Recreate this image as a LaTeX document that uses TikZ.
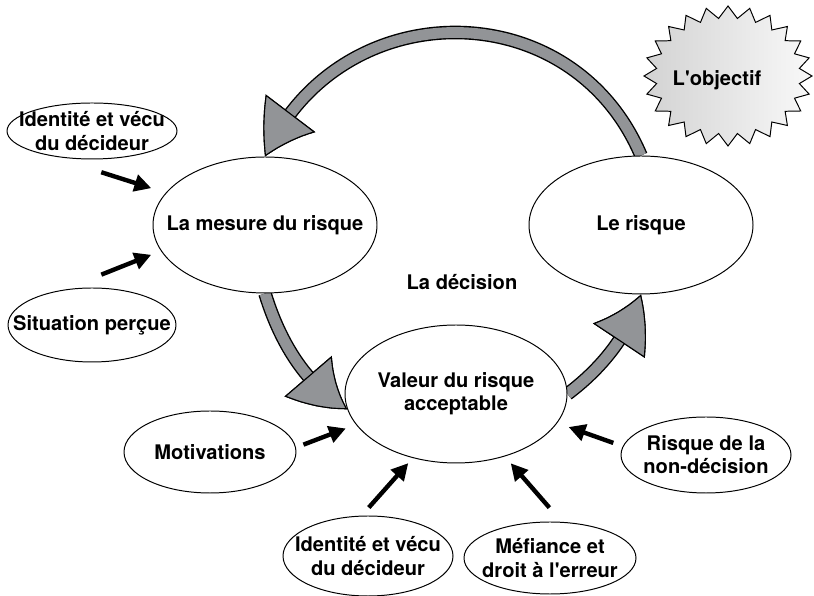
\documentclass[tikz,border=0pt]{standalone}
\usepackage{fontspec}
\setmainfont{TeX Gyre Heros}
\usetikzlibrary{arrows.meta,bending,backgrounds,shapes.geometric,shapes.symbols}
\definecolor{fleche}{RGB}{146,148,151}
\tikzset{pointe/.tip={Triangle[length=1.3cm, width=1.55cm, color=black, fill=fleche, line width=.8pt, bend]}}

\begin{document}
\begin{tikzpicture}[
    font=\fontsize{14.3}{16.5}\selectfont\bfseries,
    bulle/.style={draw, ellipse, line width=.7pt, fill=white, inner sep=0pt},
    texte/.style={align=center, inner sep=0pt},
    boucle/.style={draw=fleche, line width=.27cm, -{pointe},
      preaction={draw=black, line width=.34cm, -{pointe}}},
    pousse/.style={line width=.11cm, -{Triangle[length=.42cm, width=.42cm]}}]
  \useasboundingbox (0,0) rectangle (20.35,14.9);
  % les bulles
  \foreach \nom/\x/\y/\w/\h/\txt in {
      mesure/6.625/9.275/5.6/3.4/{La mesure du risque},
      risque/16.025/9.275/5.6/3.45/{Le risque},
      valeur/11.4/5.05/5.55/3.45/{Valeur du risque\\acceptable},
      idtop/2.3/11.625/4.25/1.4/{Identité et vécu\\du décideur},
      situation/2.3/6.775/4.2/1.85/{Situation perçue},
      motiv/5.25/3.6/4.3/2.05/{Motivations},
      idbot/9.2/1.0/4.25/2.0/{Identité et vécu\\du décideur},
      mefiance/13.75/0.95/4.3/1.8/{Méfiance et\\droit à l\textquotesingle erreur},
      risquend/17.65/3.525/4.25/1.9/{Risque de la\\non-décision}}
    {
      \node[bulle, minimum width=\w cm, minimum height=\h cm] (\nom) at (\x,\y) {};
      \node[texte] (\nom-t) at (\nom) {\txt};
    }
  \node[texte] (decision) at (11.55,7.85) {La décision};
  % l'objectif
  \node[starburst, starburst points=24, starburst point height=.3cm, random starburst=0,
        draw, line width=.7pt, minimum width=4.2cm, minimum height=3.5cm,
        left color=gray!35, right color=gray!5] (objectif) at (18.2,13.0) {};
  \node[texte] (objectif-t) at (17.925,12.9) {L\textquotesingle objectif};
  % le cycle
  \begin{scope}[on background layer]
    \draw[boucle] (risque.north) to[out=113, in=66, looseness=1.22] (mesure.north);
    \draw[boucle] (mesure.south) to[out=287, in=150, looseness=.88] (valeur.188);
    \draw[boucle] (valeur.east) to[out=37, in=253, looseness=.88] (risque.south);
  \end{scope}
  % les influences
  \foreach \da/\db/\sa/\sb/\la/\lb in {
      idtop/mesure/210/162/1.365/.38,
      situation/mesure/129/194/1.02/.26,
      motiv/valeur/3/197/.2/.27,
      idbot/valeur/99/236/.27/.17,
      mefiance/valeur/72/308/.47/.225,
      risquend/valeur/174/344/.25/.3}
    \draw[pousse, shorten <=\la cm, shorten >=\lb cm] (\da.\sa) -- (\db.\sb);
\end{tikzpicture}
\end{document}
